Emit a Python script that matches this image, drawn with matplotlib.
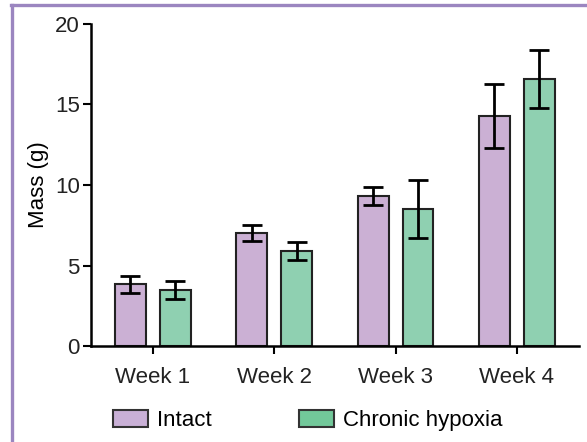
import numpy as np
import matplotlib.pyplot as plt
from matplotlib.patches import Patch
from matplotlib.lines import Line2D

plt.rcParams['font.family'] = ['Liberation Sans', 'DejaVu Sans']

weeks = ["Week 1", "Week 2", "Week 3", "Week 4"]
intact = [3.85, 7.0, 9.32, 14.29]
intact_err = [0.53, 0.5, 0.56, 2.0]
hypoxia = [3.48, 5.9, 8.5, 16.58]
hypoxia_err = [0.56, 0.57, 1.8, 1.8]

purple = "#CBB0D4"
green = "#8FD0B1"

fig = plt.figure(figsize=(5.87, 4.42), dpi=100)
ax = fig.add_axes([0.155, 0.217, 0.831, 0.729])

x = np.arange(len(weeks))
w = 0.255
err_kw = dict(ecolor="black", elinewidth=2.0, capsize=7, capthick=2.0)
ax.bar(x - 0.185, intact, w, yerr=intact_err, color=purple,
       edgecolor="#222222", linewidth=1.5, error_kw=err_kw, zorder=2)
ax.bar(x + 0.185, hypoxia, w, yerr=hypoxia_err, color=green,
       edgecolor="#222222", linewidth=1.5, error_kw=err_kw, zorder=2)

ax.set_xlim(-0.51, 3.51)
ax.set_ylim(0, 20)
ax.set_yticks([0, 5, 10, 15, 20])
ax.set_xticks(x)
ax.set_xticklabels(weeks)
ax.set_ylabel("Mass (g)", fontsize=16, labelpad=4)
ax.tick_params(axis="both", labelsize=16, width=1.5, length=6,
               color="black", labelcolor="#222222")
ax.tick_params(axis="x", pad=9)
ax.tick_params(axis="y", pad=2)
for s in ["top", "right"]:
    ax.spines[s].set_visible(False)
for s in ["left", "bottom"]:
    ax.spines[s].set_linewidth(1.8)

handles = [Patch(facecolor="#C9B0D6", edgecolor="#333333", linewidth=1.5),
           Patch(facecolor="#72C89A", edgecolor="#333333", linewidth=1.5)]
fig.legend(handles, ["Intact", "Chronic hypoxia"], ncol=2, frameon=False,
           loc="center left", bbox_to_anchor=(0.192, 0.048), fontsize=16,
           handlelength=1.6, handleheight=0.75, handletextpad=0.4,
           columnspacing=3.9, borderaxespad=0, borderpad=0)

# purple frame (top and left edges visible)
fig.add_artist(Line2D([12 / 587, 12 / 587], [0, 1 - 5 / 442], transform=fig.transFigure,
                      color="#9B86C0", linewidth=2.4))
fig.add_artist(Line2D([11 / 587, 1], [1 - 5 / 442, 1 - 5 / 442], transform=fig.transFigure,
                      color="#9B86C0", linewidth=2.4))

fig.savefig("out.png", dpi=100)
